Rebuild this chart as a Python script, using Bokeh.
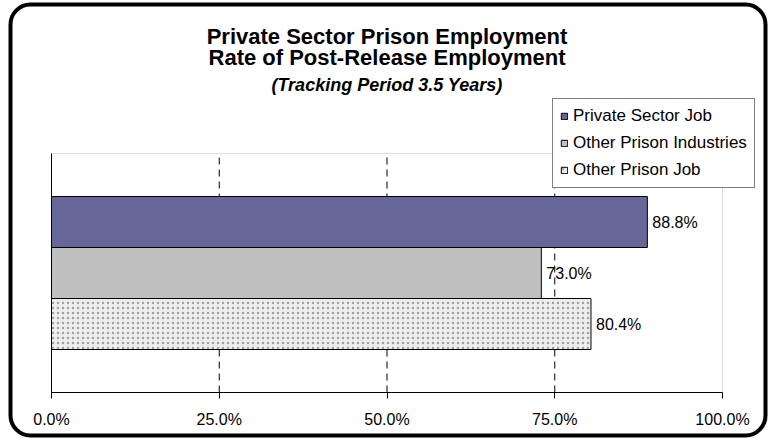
from bokeh.plotting import figure
from bokeh.models import (Range1d, FixedTicker, NumeralTickFormatter, Legend, LegendItem,
                          Label, BoxAnnotation)
from bokeh.core.properties import value
from bokeh.embed import file_html
from bokeh.resources import INLINE

# ---- data ----
title_lines = ["Private Sector Prison Employment", "Rate of Post-Release Employment"]
subtitle = "(Tracking Period 3.5 Years)"
categories = ["Private Sector Job", "Other Prison Industries", "Other Prison Job"]
rates = [0.888, 0.730, 0.804]
x_ticks = [0.0, 0.25, 0.50, 0.75, 1.0]
grid_ticks = [0.25, 0.50, 0.75]

# ---- styling / layout (pixels) ----
FONT = "Liberation Sans"
fills = ["#666699", "#c0c0c0", "#eeeeee"]
W, H = 768, 438
FL, FR, FT, FB = 51, 722, 153, 392  # plot-area edges in px
BAR_PX = 51
n = len(categories)
span = (FB - FT) / BAR_PX
y0 = (n - 1) / 2 - span / 2          # data y at plot-area bottom
y1 = (n - 1) / 2 + span / 2          # data y at plot-area top


def px_x(px):
    return (px - FL) / (FR - FL)


def px_y(py):
    return y0 + (FB - py) / BAR_PX


p = figure(width=W, height=H,
           x_range=Range1d(px_x(0), px_x(W)), y_range=Range1d(px_y(H), px_y(0)),
           output_backend="svg", toolbar_location=None,
           min_border_left=0, min_border_right=0, min_border_top=0, min_border_bottom=0)
p.background_fill_color = "white"
p.border_fill_color = "white"
p.outline_line_color = None
p.grid.visible = False

# plot-area border (grey)
p.add_layout(BoxAnnotation(left=0, right=1, bottom=y0, top=y1, fill_alpha=0,
                           line_color="#909090", line_width=1, level="underlay"))

# gridlines
p.segment(x0=grid_ticks, x1=grid_ticks, y0=y0, y1=y1, line_color="black",
          line_width=1, line_dash="7 5")

# bars
items = []
for i, (cat, r) in enumerate(zip(categories, rates)):
    y = n - 1 - i
    kw = dict(fill_color=fills[i], line_color="black", line_width=1)
    if i == 2:
        kw.update(hatch_pattern="dot", hatch_color="#a2a2a2",
                  hatch_scale=5, hatch_weight=2.5)
    rend = p.hbar(y=[y], left=0, right=[r], height=1.0, **kw)
    items.append(LegendItem(label=cat, renderers=[rend]))

# value labels
p.text(x=rates, y=[n - 1 - i for i in range(n)],
       text=[f"{v * 100:.1f}%" for v in rates],
       x_offset=5, text_baseline="middle", text_align="left",
       text_font=value(FONT), text_font_size="16px", text_color="black")

# axes
xa = p.xaxis[0]
xa.fixed_location = y0
xa.bounds = (0, 1)
xa.ticker = FixedTicker(ticks=x_ticks)
xa.formatter = NumeralTickFormatter(format="0.0%")
xa.major_tick_out = 6
xa.major_tick_in = 0
xa.minor_tick_out = 0
xa.minor_tick_in = 0
xa.axis_line_color = "black"
xa.major_tick_line_color = "black"
xa.major_label_text_font = FONT
xa.major_label_text_font_size = "16px"
xa.major_label_text_color = "black"
xa.major_label_standoff = 12

ya = p.yaxis[0]
ya.fixed_location = 0
ya.bounds = (y0, y1)
ya.ticker = FixedTicker(ticks=[])
ya.major_tick_out = 0
ya.minor_tick_out = 0
ya.major_label_text_font_size = "0px"
ya.axis_line_color = "black"

# legend
leg = Legend(items=items, location=(552, H - 188), orientation="vertical",
             label_text_font=FONT, label_text_font_size="17px",
             label_text_color="black",
             glyph_width=8, glyph_height=8, label_standoff=5,
             label_height=20, spacing=7, padding=7, margin=0,
             border_line_color="black", border_line_width=1,
             background_fill_color="white", background_fill_alpha=1)
p.add_layout(leg, "center")

# titles
cx = px_x((FL + FR) / 2)
for txt, base in zip(title_lines, [36, 57]):
    p.add_layout(Label(x=cx, y=px_y(base), text=txt, text_align="center",
                       text_baseline="alphabetic", text_font=FONT,
                       text_font_size="22px", text_font_style="bold",
                       text_color="black"))
p.add_layout(Label(x=cx, y=px_y(84), text=subtitle, text_align="center",
                   text_baseline="alphabetic", text_font=FONT,
                   text_font_size="18px", text_font_style="bold italic",
                   text_color="black"))

# outer rounded border
p.add_layout(BoxAnnotation(left=px_x(10), right=px_x(765), top=px_y(4), bottom=px_y(435),
                           fill_alpha=0, line_color="black", line_width=4, line_alpha=1,
                           border_radius=20, level="overlay"))

open("out.html", "w").write(file_html(p, INLINE))
